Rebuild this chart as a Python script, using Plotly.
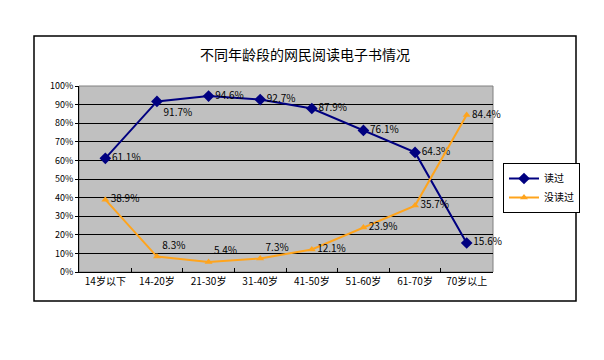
import plotly.graph_objects as go

categories = ["14岁以下", "14-20岁", "21-30岁", "31-40岁", "41-50岁", "51-60岁", "61-70岁", "70岁以上"]
read_vals = [61.1, 91.7, 94.6, 92.7, 87.9, 76.1, 64.3, 15.6]
unread_vals = [38.9, 8.3, 5.4, 7.3, 12.1, 23.9, 35.7, 84.4]
read_pos = ["middle right", "bottom right", "middle right", "middle right", "middle right", "middle right", "middle right", "middle right"]
unread_pos = ["middle right", "top right", "top right", "top right", "middle right", "middle right", "middle right", "middle right"]
yticks = [0, 10, 20, 30, 40, 50, 60, 70, 80, 90, 100]
ytick_labels = [f"{v}%" for v in yticks]

FONT = "SimSun, 'Noto Sans CJK SC', sans-serif"
NAVY = "#000080"
ORANGE = "#FFA41C"

fig = go.Figure()
fig.add_trace(go.Scatter(
    x=categories, y=read_vals, name="读过", mode="lines+markers+text",
    line=dict(color=NAVY, width=2),
    marker=dict(symbol="diamond", size=9, color=NAVY),
    text=[f"{v}%" for v in read_vals], textposition=read_pos,
    textfont=dict(family=FONT, size=10, color="black"),
    cliponaxis=False,
))
fig.add_trace(go.Scatter(
    x=categories, y=unread_vals, name="没读过", mode="lines+markers+text",
    line=dict(color=ORANGE, width=2),
    marker=dict(symbol="triangle-up", size=7, color=ORANGE),
    text=[f"{v}%" for v in unread_vals], textposition=unread_pos,
    textfont=dict(family=FONT, size=10, color="black"),
    cliponaxis=False,
))

OFF = 8  # page body margin
W, H = 604, 360
L, T = 79 - OFF, 86 - OFF
R = W - (493 - OFF)
B = H - (272 - OFF)
pw, ph = W - L - R, H - T - B


def px(x):
    return (x - OFF - L) / pw


def py(y):
    return (T + ph - (y - OFF)) / ph


fig.update_layout(
    width=W, height=H,
    margin=dict(l=L, r=R, t=T, b=B),
    paper_bgcolor="white", plot_bgcolor="#C0C0C0",
    font=dict(family=FONT, size=10, color="black"),
    title=dict(text="不同年龄段的网民阅读电子书情况", x=px(305), xref="paper",
               xanchor="center", y=1 - (55 - OFF) / H, yanchor="middle",
               font=dict(family=FONT, size=14, color="black")),
    showlegend=True,
    legend=dict(x=px(503), y=py(163), xanchor="left", yanchor="top",
                bgcolor="white", bordercolor="black", borderwidth=1,
                font=dict(family=FONT, size=10), tracegroupgap=0, itemwidth=30),
    xaxis=dict(showgrid=False, showline=True, linecolor="black", linewidth=1,
               ticks="inside", tickson="boundaries", ticklen=4, tickcolor="black",
               tickfont=dict(family=FONT, size=10), zeroline=False, fixedrange=True),
    yaxis=dict(range=[0, 100], tickvals=yticks, ticktext=ytick_labels,
               showgrid=True, gridcolor="black", gridwidth=1,
               showline=True, linecolor="black", linewidth=1,
               ticks="outside", ticklen=3, tickcolor="black",
               tickfont=dict(family=FONT, size=9), zeroline=False),
    shapes=[
        dict(type="rect", xref="paper", yref="paper", x0=0, x1=1, y0=0, y1=1,
             line=dict(color="#808080", width=1), layer="below"),
        dict(type="rect", xref="paper", yref="paper",
             x0=px(34), x1=px(576), y0=py(301), y1=py(36),
             line=dict(color="black", width=1.5)),
    ],
)

fig.write_html("out.html")
